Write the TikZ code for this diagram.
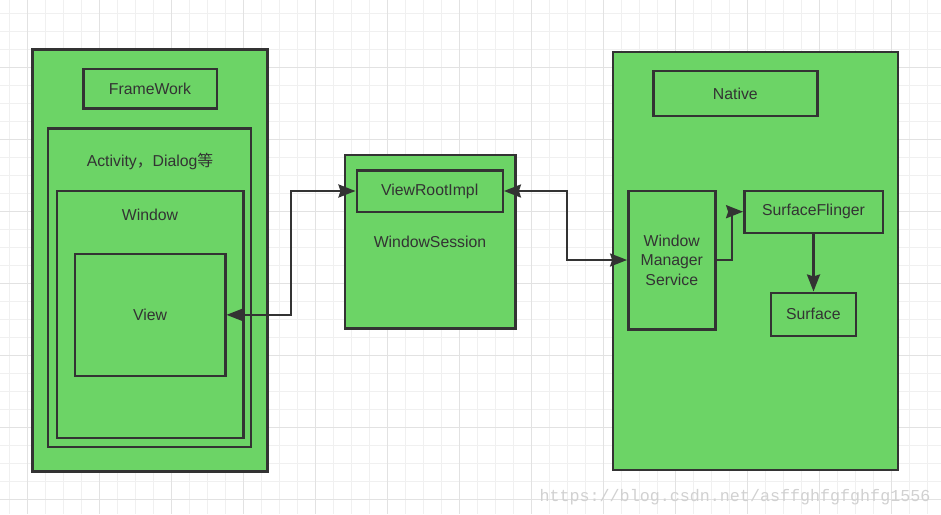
\documentclass[tikz,border=0pt]{standalone}
\usepackage{fontspec}
\setmainfont{Liberation Sans}
\newfontfamily\cjk{Noto Sans CJK SC}
\newfontfamily\wmfont{Liberation Mono}
\usepackage{tikz}
\usetikzlibrary{arrows.meta,positioning}
\definecolor{boxgreen}{HTML}{6CD466}
\definecolor{boxline}{HTML}{333333}
\definecolor{minorgrid}{HTML}{F0F0F0}
\definecolor{majorgrid}{HTML}{E2E2E2}
\tikzset{
    box/.style={draw=boxline,fill=boxgreen,line width=2.4pt,inner sep=0pt},
    txt/.style={text=boxline,font=\fontsize{15.8}{19.4}\selectfont,inner sep=0pt,align=center},
    dlink/.style={draw=boxline,line width=2.4pt,{Stealth[length=17pt,width=13pt,inset=2pt]}-{Stealth[length=17pt,width=13pt,inset=2pt]}},
    slink/.style={draw=boxline,line width=2.4pt,-{Stealth[length=17pt,width=13pt,inset=2pt]}},
}

\begin{document}
\begin{tikzpicture}[x=1pt,y=-1pt]
\useasboundingbox[fill=white](0,0) rectangle (941,514);
\foreach \x in {0,...,52}
    \draw[minorgrid,line width=1pt]({9.7+18*\x},0) -- ({9.7+18*\x},514);
\foreach \y in {0,...,28}
    \draw[minorgrid,line width=1pt](0,{13.7+18*\y}) -- (941,{13.7+18*\y});
\foreach \x in {0,...,12}
    \draw[majorgrid,line width=1pt]({27.7+72*\x},0) -- ({27.7+72*\x},514);
\foreach \y in {1,...,7}
    \draw[majorgrid,line width=1pt](0,{-4.3+72*\y}) -- (941,{-4.3+72*\y});

% framework side
\node[box,minimum width=235pt,minimum height=422pt] (fw) at (150,260.5) {};
\node[box,minimum width=133.4pt,minimum height=39.6pt] (fwlabel) at (150,88.5) {};
\node[txt] at (fwlabel) {FrameWork};
\node[box,minimum width=203.3pt,minimum height=318.4pt] (activity) at (149.35,287.5) {};
\node[txt] (actlabel) at (150,161) {Activity{\cjk ，}Dialog{\cjk 等}};
\node[box,minimum width=186.6pt,minimum height=247pt] (window) at (150,314.2) {};
\node[txt] (winlabel) at (150,215) {Window};
\node[box,minimum width=150.6pt,minimum height=122.3pt] (view) at (150,314.85) {};
\node[txt] at (view) {View};

% session
\node[box,minimum width=170.3pt,minimum height=173.3pt] (session) at (430.15,241.65) {};
\node[txt] (seslabel) at (430,242.3) {WindowSession};
\node[box,minimum width=146pt,minimum height=41.4pt] (viewroot) at (429.7,191) {};
\node[txt] at (viewroot) {ViewRootImpl};

% native side
\node[box,minimum width=285pt,minimum height=417.7pt] (native) at (755.2,260.85) {};
\node[box,minimum width=164pt,minimum height=45pt] (natlabel) at (735.3,93.5) {};
\node[txt] at (natlabel) {Native};
\node[box,minimum width=87pt,minimum height=138.6pt] (wms) at (671.8,260) {};
\node[txt] at (wms) {Window\\Manager\\Service};
\node[box,minimum width=138.4pt,minimum height=42pt] (flinger) at (813.5,211.7) {};
\node[txt] at (flinger) {SurfaceFlinger};
\node[box,minimum width=85.3pt,minimum height=43.3pt] (surface) at (813.35,314.35) {};
\node[txt] at (surface) {Surface};

\draw[dlink](view.east) -- ++(64.7,0) |- (viewroot.west);
\draw[dlink](viewroot.east) -- ++(63,0) |- (wms.west);
\draw[slink](wms.east) -- ++(15.7,0) |- (flinger.west);
\draw[slink](flinger.south) -- (flinger.south |- surface.north);

\node[text=black!18,font=\wmfont\fontsize{16.7}{17}\selectfont,inner sep=0pt,anchor=base] (mark) at (735,501.5) {https://blog.csdn.net/asffghfgfghfg1556};
\end{tikzpicture}
\end{document}
